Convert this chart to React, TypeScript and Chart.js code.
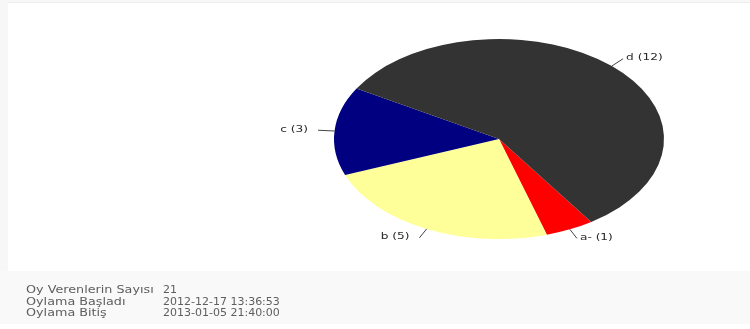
import React, { useEffect, useRef } from "react";
import { Chart, registerables } from "chart.js";

Chart.register(...registerables);

const categories = ["a-", "b", "c", "d"];
const votes = [1, 5, 3, 12];
const sliceColors = ["#ff0000", "#ffff99", "#000080", "#333333"];
const infoLabels = ["Oy Verenlerin Sayısı", "Oylama Başladı", "Oylama Bitiş"];
const infoValues = [String(votes.reduce((a, b) => a + b, 0)), "2012-12-17 13:36:53", "2013-01-05 21:40:00"];

const STRETCH_X = 1.65;
const TEXT_STRETCH = 1.35;

const ellipsePlugin = {
  id: "ellipsePie",
  beforeDatasetsDraw(chart: any) {
    const meta = chart.getDatasetMeta(0);
    const arc = meta.data[0];
    if (!arc) return;
    const ctx = chart.ctx;
    ctx.save();
    ctx.translate(arc.x, 0);
    ctx.scale(STRETCH_X, 1);
    ctx.translate(-arc.x, 0);
  },
  afterDatasetsDraw(chart: any) {
    const ctx = chart.ctx;
    ctx.restore();
    const meta = chart.getDatasetMeta(0);
    const ds = chart.data.datasets[0];
    meta.data.forEach((el: any, i: number) => {
      const { x, y, startAngle, endAngle, outerRadius } = el.getProps(
        ["x", "y", "startAngle", "endAngle", "outerRadius"],
        true
      );
      const mid = (startAngle + endAngle) / 2;
      const c = Math.cos(mid);
      const s = Math.sin(mid);
      const rx = outerRadius * STRETCH_X;
      const ry = outerRadius;
      const x1 = x + rx * c;
      const y1 = y + ry * s;
      const x2 = x + rx * 1.1 * c;
      const y2 = y + ry * 1.1 * s;
      ctx.save();
      ctx.strokeStyle = "#444444";
      ctx.lineWidth = 1;
      ctx.beginPath();
      ctx.moveTo(x1, y1);
      ctx.lineTo(x2, y2);
      ctx.stroke();
      const right = c >= 0;
      const text = `${chart.data.labels[i]} (${ds.data[i]})`;
      ctx.translate(right ? x2 + 3 : x2 - 10, y2 - 1);
      ctx.scale(TEXT_STRETCH, 1);
      ctx.font = "9px 'DejaVu Sans'";
      ctx.fillStyle = "#2a2a2a";
      ctx.textAlign = right ? "left" : "right";
      ctx.textBaseline = "middle";
      ctx.fillText(text, 0, 0);
      ctx.restore();
    });
  },
};

export default function App() {
  const canvasRef = useRef<HTMLCanvasElement | null>(null);

  useEffect(() => {
    if (!canvasRef.current) return;
    const chart = new Chart(canvasRef.current, {
      type: "pie",
      data: {
        labels: categories,
        datasets: [
          {
            data: votes,
            backgroundColor: sliceColors,
            borderWidth: 0,
            clip: false as any,
          },
        ],
      },
      options: {
        responsive: false,
        animation: false,
        events: [],
        rotation: 146,
        layout: { padding: { left: 399, right: 151, top: 39, bottom: 90 } },
        plugins: {
          legend: { display: false },
          tooltip: { enabled: false },
        },
      },
      plugins: [ellipsePlugin],
    });
    return () => chart.destroy();
  }, []);

  return (
    <div
      style={{
        position: "fixed",
        left: 0,
        top: 0,
        width: 750,
        height: 329,
        background: "#ffffff",
        overflow: "hidden",
      }}
    >
      <div style={{ position: "absolute", left: 0, top: 0, width: 750, height: 2, background: "#f8f8f8" }} />
      <div style={{ position: "absolute", left: 0, top: 2, width: 750, height: 1, background: "#eeeeee" }} />
      <div style={{ position: "absolute", left: 0, top: 0, width: 8, height: 271, background: "#f7f7f7" }} />
      <div style={{ position: "absolute", left: 0, top: 271, width: 750, height: 53, background: "#f9f9f9" }} />
      <canvas
        ref={canvasRef}
        width={750}
        height={329}
        style={{ position: "absolute", left: 0, top: 0, width: 750, height: 329, display: "block" }}
      />
      {infoLabels.map((lab, i) => (
        <div
          key={lab}
          style={{
            position: "absolute",
            left: 0,
            top: 284 + i * 11.7,
            height: 12,
            width: 750,
            fontFamily: "'DejaVu Sans', sans-serif",
            fontSize: 11,
            lineHeight: "12px",
            color: "#5e5e5e",
            whiteSpace: "nowrap",
          }}
        >
          <span
            style={{
              position: "absolute",
              left: 26,
              top: 0,
              transform: "scaleX(1.16)",
              transformOrigin: "left center",
            }}
          >
            {lab}
          </span>
          <span
            style={{
              position: "absolute",
              left: 163,
              top: 0,
              transform: "scaleX(1.0)",
              transformOrigin: "left center",
            }}
          >
            {infoValues[i]}
          </span>
        </div>
      ))}
    </div>
  );
}
